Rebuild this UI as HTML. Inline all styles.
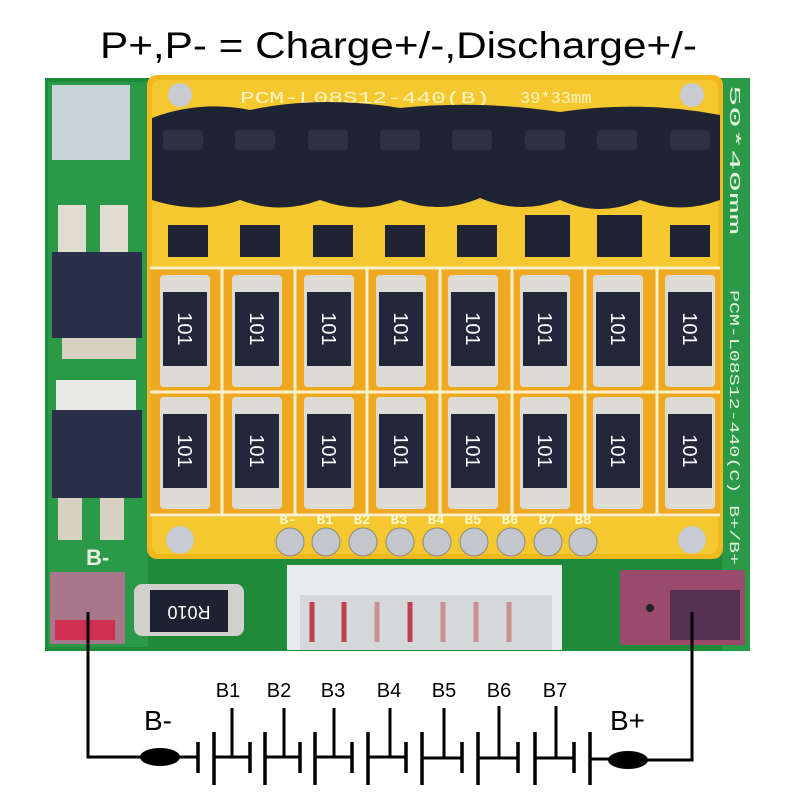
<!DOCTYPE html>
<html><head><meta charset="utf-8"><style>
html,body{margin:0;padding:0;background:#fff;}
svg{display:block;}
</style></head><body>
<svg width="800" height="800" viewBox="0 0 800 800" xmlns="http://www.w3.org/2000/svg" font-family="Liberation Sans, sans-serif">
<rect width="800" height="800" fill="#fff"/>
<text x="100" y="58" font-size="37" textLength="597" lengthAdjust="spacingAndGlyphs" fill="#000">P+,P- = Charge+/-,Discharge+/-</text>

<rect x="45" y="78" width="705" height="573" fill="#1f8a3a"/>
<rect x="48" y="82" width="100" height="565" fill="#2a9a48"/>
<rect x="722" y="78" width="28" height="573" fill="#2a9a48"/>
<rect x="52" y="85" width="78" height="75" fill="#c8d4d8"/>
<rect x="58" y="205" width="28" height="50" fill="#e0ddd0"/>
<rect x="100" y="205" width="28" height="50" fill="#e0ddd0"/>
<rect x="62" y="337" width="74" height="22" fill="#d8d0c0"/>
<rect x="52" y="252" width="90" height="86" fill="#2a2f4a"/>
<rect x="56" y="380" width="80" height="32" fill="#e8e8e4"/>
<rect x="52" y="410" width="90" height="88" fill="#2a2f4a"/>
<rect x="58" y="498" width="24" height="42" fill="#d8d0c0"/>
<rect x="100" y="498" width="24" height="42" fill="#d8d0c0"/>
<text x="86" y="565" font-size="22" fill="#e8f0e0" font-weight="bold">B-</text>
<rect x="50" y="572" width="75" height="72" fill="#a8788a"/>
<rect x="55" y="620" width="60" height="20" fill="#d03050"/>
<rect x="134" y="584" width="110" height="52" rx="8" fill="#d0d0cc"/>
<rect x="150" y="590" width="78" height="42" fill="#1e2230"/>
<text x="189" y="620" font-size="18" fill="#fff" text-anchor="middle" transform="rotate(180 189 613)">R010</text>
<rect x="620" y="570" width="125" height="75" fill="#9a4a6a"/>
<circle cx="650" cy="608" r="4" fill="#222"/>
<rect x="670" y="590" width="70" height="50" fill="#2a2040" opacity="0.6"/>
<rect x="287" y="565" width="275" height="85" fill="#e8ecec"/>
<rect x="300" y="595" width="252" height="55" fill="#d4d8d8"/>
<g stroke="#c04050" stroke-width="5">
<line x1="312" y1="602" x2="312" y2="642"/><line x1="344" y1="602" x2="344" y2="642"/>
<line x1="377" y1="602" x2="377" y2="642" stroke="#c89090"/><line x1="410" y1="602" x2="410" y2="642"/>
<line x1="443" y1="602" x2="443" y2="642" stroke="#c89090"/><line x1="476" y1="602" x2="476" y2="642" stroke="#c89090"/>
<line x1="509" y1="602" x2="509" y2="642" stroke="#c89090"/>
</g>

<rect x="147" y="75" width="576" height="484" rx="10" fill="#f2b81c"/>
<rect x="152" y="80" width="566" height="474" rx="8" fill="#f5c830"/>
<text x="240" y="103" font-size="17" font-family="Liberation Mono, monospace" fill="#fff3c0" textLength="250" lengthAdjust="spacingAndGlyphs">PCM-L08S12-440(B)</text>
<text x="520" y="103" font-size="17" font-family="Liberation Mono, monospace" fill="#fff3c0">39*33mm</text>
<text x="730" y="85" font-size="15" fill="#e8f0e0" font-family="Liberation Mono, monospace" transform="rotate(90 730 85)" textLength="150" lengthAdjust="spacingAndGlyphs">50*40mm</text>
<text x="730" y="290" font-size="14" fill="#e8f0e0" font-family="Liberation Mono, monospace" transform="rotate(90 730 290)" textLength="275" lengthAdjust="spacingAndGlyphs">PCM-L08S12-440(C) B+/B+</text>
<circle cx="180" cy="95" r="12" fill="#c8ccd0"/>
<circle cx="692" cy="95" r="12" fill="#c8ccd0"/>
<circle cx="180" cy="540" r="14" fill="#c8ccd0"/>
<circle cx="692" cy="540" r="14" fill="#c8ccd0"/>

<path d="M152 118 Q200 100 250 110 Q320 95 400 108 Q480 100 560 112 Q640 100 720 115 L720 200 Q680 215 640 200 Q600 218 560 200 Q520 215 480 198 Q440 215 400 200 Q360 215 320 200 Q280 215 240 200 Q200 215 152 200 Z" fill="#1e2432"/>
<g fill="#2c3240">
<rect x="163" y="130" width="40" height="20" rx="4"/><rect x="235" y="130" width="40" height="20" rx="4"/><rect x="308" y="130" width="40" height="20" rx="4"/><rect x="380" y="130" width="40" height="20" rx="4"/><rect x="452" y="130" width="40" height="20" rx="4"/><rect x="525" y="130" width="40" height="20" rx="4"/><rect x="597" y="130" width="40" height="20" rx="4"/><rect x="670" y="130" width="40" height="20" rx="4"/>
</g>
<g fill="#1e2432">
<rect x="168" y="225" width="40" height="32"/><rect x="240" y="225" width="40" height="32"/><rect x="313" y="225" width="40" height="32"/><rect x="385" y="225" width="40" height="32"/><rect x="457" y="225" width="40" height="32"/><rect x="525" y="215" width="45" height="42"/><rect x="597" y="215" width="45" height="42"/><rect x="670" y="225" width="40" height="32"/>
</g>

<rect x="150" y="267" width="570" height="250" fill="#f0a820"/>
<g stroke="#f8f0c8" stroke-width="3" fill="none">
<line x1="150" y1="268" x2="720" y2="268"/><line x1="150" y1="392" x2="720" y2="392"/><line x1="150" y1="515" x2="720" y2="515"/>
<line x1="222" y1="268" x2="222" y2="515"/><line x1="295" y1="268" x2="295" y2="515"/><line x1="367" y1="268" x2="367" y2="515"/><line x1="440" y1="268" x2="440" y2="515"/><line x1="512" y1="268" x2="512" y2="515"/><line x1="585" y1="268" x2="585" y2="515"/><line x1="657" y1="268" x2="657" y2="515"/>
</g>
<g fill="#dcdcd4">
<rect x="160" y="275" width="50" height="112" rx="4"/><rect x="232" y="275" width="50" height="112" rx="4"/><rect x="304" y="275" width="50" height="112" rx="4"/><rect x="376" y="275" width="50" height="112" rx="4"/><rect x="448" y="275" width="50" height="112" rx="4"/><rect x="520" y="275" width="50" height="112" rx="4"/><rect x="593" y="275" width="50" height="112" rx="4"/><rect x="665" y="275" width="50" height="112" rx="4"/>
<rect x="160" y="397" width="50" height="112" rx="4"/><rect x="232" y="397" width="50" height="112" rx="4"/><rect x="304" y="397" width="50" height="112" rx="4"/><rect x="376" y="397" width="50" height="112" rx="4"/><rect x="448" y="397" width="50" height="112" rx="4"/><rect x="520" y="397" width="50" height="112" rx="4"/><rect x="593" y="397" width="50" height="112" rx="4"/><rect x="665" y="397" width="50" height="112" rx="4"/>
</g>
<g fill="#22283a">
<rect x="163" y="292" width="44" height="74"/><rect x="235" y="292" width="44" height="74"/><rect x="307" y="292" width="44" height="74"/><rect x="379" y="292" width="44" height="74"/><rect x="451" y="292" width="44" height="74"/><rect x="523" y="292" width="44" height="74"/><rect x="596" y="292" width="44" height="74"/><rect x="668" y="292" width="44" height="74"/>
<rect x="163" y="414" width="44" height="74"/><rect x="235" y="414" width="44" height="74"/><rect x="307" y="414" width="44" height="74"/><rect x="379" y="414" width="44" height="74"/><rect x="451" y="414" width="44" height="74"/><rect x="523" y="414" width="44" height="74"/><rect x="596" y="414" width="44" height="74"/><rect x="668" y="414" width="44" height="74"/>
</g>
<g fill="#fff" font-size="20" text-anchor="middle">
<text x="185" y="336" transform="rotate(90 185 329)">101</text><text x="257" y="336" transform="rotate(90 257 329)">101</text><text x="329" y="336" transform="rotate(90 329 329)">101</text><text x="401" y="336" transform="rotate(90 401 329)">101</text><text x="473" y="336" transform="rotate(90 473 329)">101</text><text x="545" y="336" transform="rotate(90 545 329)">101</text><text x="618" y="336" transform="rotate(90 618 329)">101</text><text x="690" y="336" transform="rotate(90 690 329)">101</text>
<text x="185" y="458" transform="rotate(90 185 451)">101</text><text x="257" y="458" transform="rotate(90 257 451)">101</text><text x="329" y="458" transform="rotate(90 329 451)">101</text><text x="401" y="458" transform="rotate(90 401 451)">101</text><text x="473" y="458" transform="rotate(90 473 451)">101</text><text x="545" y="458" transform="rotate(90 545 451)">101</text><text x="618" y="458" transform="rotate(90 618 451)">101</text><text x="690" y="458" transform="rotate(90 690 451)">101</text>
</g>
<g fill="#fff8d0" font-size="14" font-family="Liberation Mono, monospace" text-anchor="middle" font-weight="bold">
<text x="288" y="524">B-</text><text x="325" y="524">B1</text><text x="362" y="524">B2</text><text x="399" y="524">B3</text><text x="436" y="524">B4</text><text x="473" y="524">B5</text><text x="510" y="524">B6</text><text x="547" y="524">B7</text><text x="583" y="524">B8</text>
</g>
<g fill="#c4c8cc" stroke="#8a8a80" stroke-width="1">
<circle cx="290" cy="542" r="14"/><circle cx="326" cy="542" r="14"/><circle cx="363" cy="542" r="14"/><circle cx="400" cy="542" r="14"/><circle cx="437" cy="542" r="14"/><circle cx="474" cy="542" r="14"/><circle cx="511" cy="542" r="14"/><circle cx="548" cy="542" r="14"/><circle cx="583" cy="542" r="14"/>
</g>

<g stroke="#000" stroke-width="3" fill="none">
<polyline points="88,612 88,757 181,757"/>
<polyline points="692,612 692,760 610,760"/>
<line x1="214" y1="757" x2="250" y2="757"/><line x1="265" y1="757" x2="300" y2="757"/><line x1="315" y1="757" x2="352" y2="757"/><line x1="368" y1="757" x2="406" y2="757"/><line x1="422" y1="758" x2="462" y2="758"/><line x1="478" y1="758" x2="518" y2="758"/><line x1="535" y1="758" x2="574" y2="758"/><line x1="590" y1="759" x2="610" y2="759"/>
<line x1="181" y1="757" x2="198" y2="757"/>
<g stroke-width="3.5">
<line x1="198" y1="742" x2="198" y2="773"/><line x1="214" y1="732" x2="214" y2="785"/>
<line x1="250" y1="742" x2="250" y2="773"/><line x1="265" y1="732" x2="265" y2="785"/>
<line x1="300" y1="742" x2="300" y2="773"/><line x1="315" y1="732" x2="315" y2="785"/>
<line x1="352" y1="742" x2="352" y2="773"/><line x1="368" y1="732" x2="368" y2="785"/>
<line x1="406" y1="742" x2="406" y2="773"/><line x1="422" y1="732" x2="422" y2="785"/>
<line x1="462" y1="742" x2="462" y2="773"/><line x1="478" y1="732" x2="478" y2="785"/>
<line x1="518" y1="742" x2="518" y2="773"/><line x1="535" y1="732" x2="535" y2="785"/>
<line x1="574" y1="742" x2="574" y2="773"/><line x1="590" y1="732" x2="590" y2="785"/>
</g>
<line x1="232" y1="708" x2="232" y2="757"/><line x1="284" y1="708" x2="284" y2="757"/><line x1="334" y1="708" x2="334" y2="757"/><line x1="390" y1="708" x2="390" y2="757"/><line x1="444" y1="708" x2="444" y2="758"/><line x1="499" y1="706" x2="499" y2="758"/><line x1="556" y1="706" x2="556" y2="758"/>
</g>
<ellipse cx="160" cy="757" rx="20" ry="9" fill="#000"/>
<ellipse cx="628" cy="760" rx="20" ry="9" fill="#000"/>
<g font-size="20" text-anchor="middle" fill="#000">
<text x="228" y="697">B1</text><text x="279" y="697">B2</text><text x="333" y="697">B3</text><text x="389" y="697">B4</text><text x="444" y="697">B5</text><text x="499" y="697">B6</text><text x="555" y="697">B7</text>
</g>
<text x="144" y="730" font-size="28" fill="#000">B-</text>
<text x="610" y="730" font-size="28" fill="#000">B+</text>
</svg>
</body></html>
